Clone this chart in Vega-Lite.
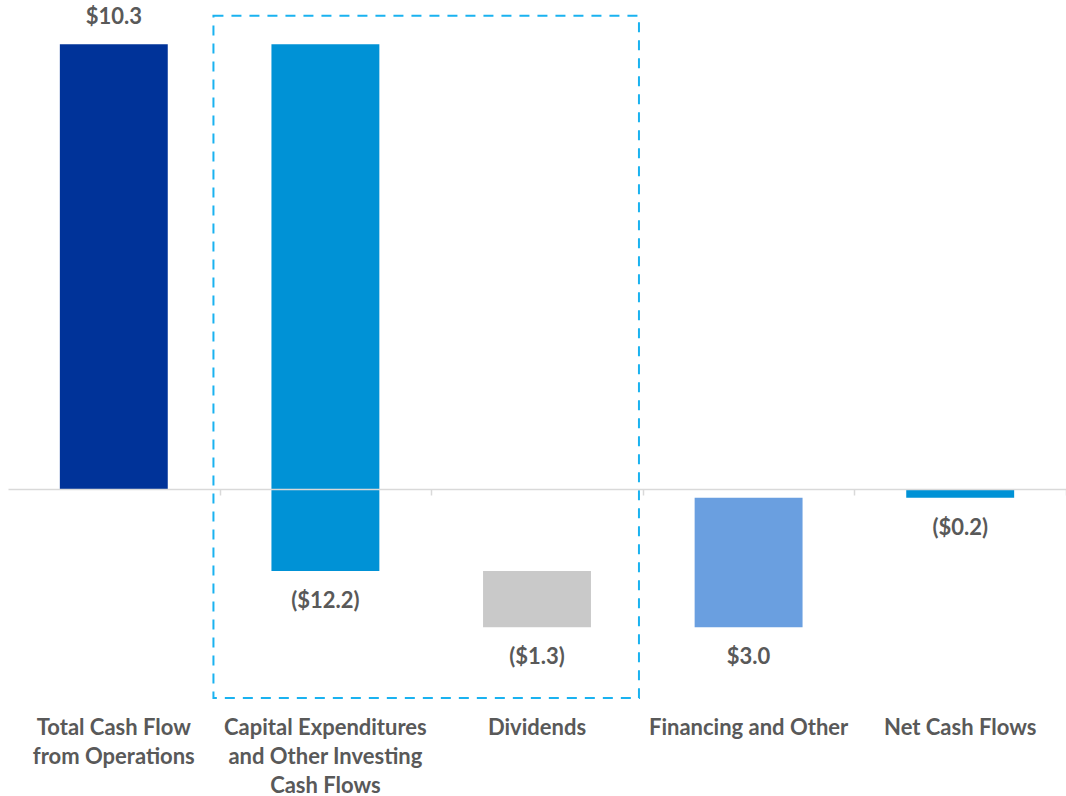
{
  "$schema": "https://vega.github.io/schema/vega-lite/v6.json",
  "width": 1058,
  "height": 691,
  "autosize": {"type": "none"},
  "padding": {"left": 8, "top": 14, "right": 0, "bottom": 91},
  "background": "white",
  "config": {"view": {"stroke": null}},
  "datasets": {
    "flows": [
      {"cat": "Total Cash Flow|from Operations", "start": 0, "end": 10.3, "labelY": 10.3, "label": "$10.3", "pos": "top"},
      {"cat": "Capital Expenditures|and Other Investing|Cash Flows", "start": 10.3, "end": -1.9, "labelY": -1.9, "label": "($12.2)", "pos": "bottom"},
      {"cat": "Dividends", "start": -1.9, "end": -3.2, "labelY": -3.2, "label": "($1.3)", "pos": "bottom"},
      {"cat": "Financing and Other", "start": -3.2, "end": -0.2, "labelY": -3.2, "label": "$3.0", "pos": "bottom"},
      {"cat": "Net Cash Flows", "start": 0, "end": -0.2, "labelY": -0.2, "label": "($0.2)", "pos": "bottom"}
    ],
    "box": [
      {"c1": "Capital Expenditures|and Other Investing|Cash Flows", "c2": "Dividends", "top": 10.96, "bottom": -4.84}
    ]
  },
  "resolve": {"axis": {"x": "independent"}},
  "layer": [
    {
      "data": {"name": "flows"},
      "mark": {"type": "bar", "width": {"band": 1}},
      "encoding": {
        "x": {
          "field": "cat", "type": "nominal", "sort": null,
          "scale": {
            "domain": ["Total Cash Flow|from Operations", "Capital Expenditures|and Other Investing|Cash Flows", "Dividends", "Financing and Other", "Net Cash Flows"],
            "paddingInner": 0.49, "paddingOuter": 0.245
          },
          "axis": {
            "orient": "bottom",
            "title": null, "domain": false, "ticks": false, "labelAngle": 0,
            "labelExpr": "split(datum.label, '|')",
            "labelFont": "Lato", "labelFontSize": 22, "labelFontWeight": "bold",
            "labelColor": "#595959", "labelLineHeight": 29, "labelPadding": 12, "labelLimit": 400
          }
        },
        "y": {"field": "start", "type": "quantitative", "scale": {"domain": [-5, 11], "nice": false, "zero": false}, "axis": null},
        "y2": {"field": "end"},
        "color": {
          "field": "cat", "type": "nominal", "legend": null,
          "scale": {
            "domain": ["Total Cash Flow|from Operations", "Capital Expenditures|and Other Investing|Cash Flows", "Dividends", "Financing and Other", "Net Cash Flows"],
            "range": ["#003399", "#0092D6", "#C9C9C9", "#6A9FE0", "#0092D6"]
          }
        }
      }
    },
    {
      "data": {"name": "flows"},
      "transform": [{"filter": "datum.pos == 'top'"}],
      "mark": {"type": "text", "font": "Lato", "fontSize": 22, "fontWeight": "bold", "color": "#595959", "baseline": "middle", "dy": -27},
      "encoding": {
        "x": {"field": "cat", "type": "nominal", "sort": null, "axis": null},
        "y": {"field": "labelY", "type": "quantitative", "axis": null},
        "text": {"field": "label"}
      }
    },
    {
      "data": {"name": "flows"},
      "transform": [{"filter": "datum.pos == 'bottom'"}],
      "mark": {"type": "text", "font": "Lato", "fontSize": 22, "fontWeight": "bold", "color": "#595959", "baseline": "middle", "dy": 30},
      "encoding": {
        "x": {"field": "cat", "type": "nominal", "sort": null, "axis": null},
        "y": {"field": "labelY", "type": "quantitative", "axis": null},
        "text": {"field": "label"}
      }
    },
    {
      "data": {"name": "box"},
      "mark": {"type": "rect", "filled": false, "stroke": "#1AB2F0", "strokeWidth": 2, "strokeDash": [10, 8], "xOffset": -58, "x2Offset": 48},
      "encoding": {
        "x": {
          "field": "c1", "type": "nominal", "bandPosition": 0,
          "axis": {
            "orient": "bottom",
            "title": null, "labels": false, "domain": true, "domainColor": "#D9D9D9", "domainWidth": 1.5,
            "ticks": true, "tickBand": "center", "tickOffset": 105.8, "tickColor": "#D9D9D9", "tickSize": 6, "tickWidth": 1.5,
            "grid": false, "offset": -216
          }
        },
        "x2": {"field": "c2", "bandPosition": 1},
        "y": {"field": "top", "type": "quantitative", "axis": null},
        "y2": {"field": "bottom"}
      }
    }
  ]
}
